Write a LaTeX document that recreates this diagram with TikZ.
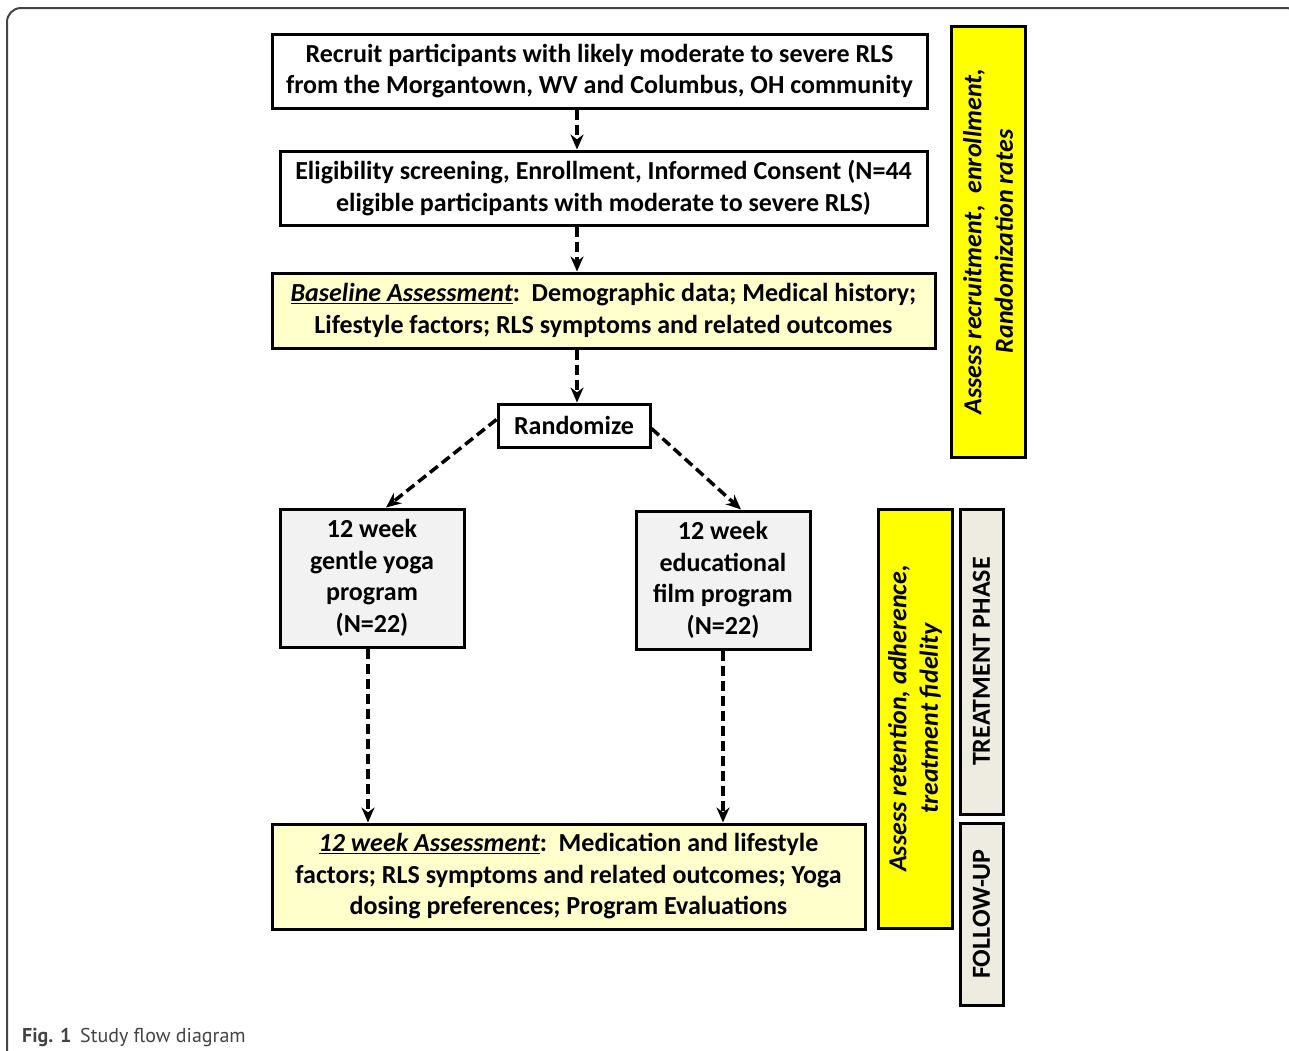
\documentclass[tikz,border=0pt]{standalone}
\usepackage{fontspec}
\setmainfont{Carlito}
\newfontfamily\capfont{PT Sans}
\usetikzlibrary{arrows.meta}
\definecolor{lyel}{HTML}{FFFFCC}
\definecolor{lgray}{HTML}{F2F2F2}
\definecolor{byel}{HTML}{FFFF00}
\definecolor{tgray}{HTML}{EEECE1}
\definecolor{frame}{HTML}{444444}
\tikzset{
  box/.style={draw=black, line width=3pt, inner sep=0pt, align=center,
    font=\fontsize{26}{31.5}\selectfont\bfseries},
  sidebar/.style={box, rotate=90},
  flow/.style={line width=3.5pt, dash pattern=on 10pt off 5pt,
    -{Stealth[length=15pt,width=13pt]}},
}
\begin{document}
\begin{tikzpicture}[x=1pt,y=-1pt]
\useasboundingbox (0,0) rectangle (1289,1050);
\begin{scope}
\clip (0,0) rectangle (1289,1050);
\draw[frame, line width=2pt, rounded corners=14pt] (7,8) rectangle (1300,1080);
\end{scope}

\node[box, fill=white, minimum width=655pt, minimum height=74pt] (b1) at (599.5,71)
  {Recruit participants with likely moderate to severe RLS\\from the Morgantown, WV and Columbus, OH community};
\node[box, fill=white, minimum width=647pt, minimum height=74pt] (b2) at (603.5,188)
  {Eligibility screening, Enrollment, Informed Consent (N=44\\eligible participants with moderate to severe RLS)};
\node[box, fill=lyel, minimum width=663pt, minimum height=75pt] (b3) at (603.5,310.5)
  {\underline{\itshape Baseline Assessment}:\ \ Demographic data; Medical history;\\Lifestyle factors; RLS symptoms and related outcomes};
\node[box, fill=white, minimum width=152pt, minimum height=43pt] (rand) at (574,425.5) {Randomize};
\node[box, fill=lgray, minimum width=184pt, minimum height=138pt] (yoga) at (372,578)
  {12 week\\gentle yoga\\program\\(N=22)};
\node[box, fill=lgray, minimum width=174pt, minimum height=138pt] (film) at (723,580)
  {12 week\\educational\\film program\\(N=22)};
\node[box, fill=lyel, minimum width=593pt, minimum height=105pt] (b12) at (568.5,876.5)
  {\underline{\itshape 12 week Assessment}:\ \ Medication and lifestyle\\factors; RLS symptoms and related outcomes; Yoga\\dosing preferences; Program Evaluations};

\node[sidebar, fill=byel, minimum width=431pt, minimum height=74pt] (bar1) at (988,241.5)
  {\itshape Assess recruitment,\ \ enrollment,\\\itshape Randomization rates};
\node[sidebar, fill=byel, minimum width=419pt, minimum height=74pt] (bar2) at (915,718.5)
  {\itshape Assess retention, adherence,\\\itshape treatment fidelity};
\node[sidebar, fill=tgray, minimum width=305pt, minimum height=43pt] (treat) at (981.5,661.5)
  {TREATMENT PHASE};
\node[sidebar, fill=tgray, minimum width=182pt, minimum height=43pt] (follow) at (981.5,914)
  {FOLLOW-UP};

\coordinate (ax) at (577,0);
\coordinate (yx) at (368,0);
\coordinate (fx) at (723,0);
\coordinate (ly) at (386,0);
\coordinate (ry) at (741,0);
\draw[flow] (b1.south -| ax) -- (b2.north -| ax);
\draw[flow] (b2.south -| ax) -- (b3.north -| ax);
\draw[flow] (b3.south -| ax) -- (rand.north -| ax);
\draw[flow] ([yshift=6pt]rand.west) -- (yoga.north -| ly);
\draw[flow] ([yshift=-3pt]rand.east) -- (film.north -| ry);
\draw[flow] (yoga.south -| yx) -- (b12.north -| yx);
\draw[flow] (film.south -| fx) -- (b12.north -| fx);

\node[anchor=base west, inner sep=0pt, text=frame, font=\capfont\fontsize{20}{24}\selectfont] (cap) at (22,1042)
  {\textbf{Fig. 1}\ \,Study flow diagram};
\end{tikzpicture}
\end{document}
